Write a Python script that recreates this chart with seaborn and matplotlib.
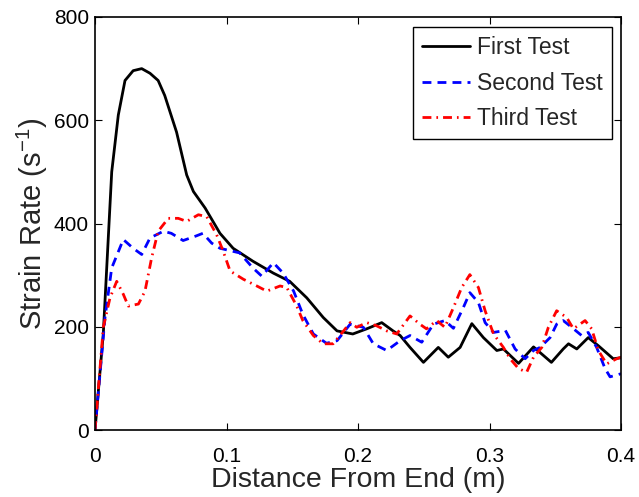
import matplotlib
matplotlib.use("Agg")
import pandas as pd
import seaborn as sns
from matplotlib import pyplot as plt

# values (distance in m, strain rate in 1/s)
first_x = [0.0, 0.0063, 0.0127, 0.0177, 0.0228, 0.029, 0.0355, 0.0418, 0.048, 0.053,
           0.062, 0.0697, 0.0748, 0.0837, 0.095, 0.105, 0.120, 0.1355, 0.148, 0.161,
           0.1735, 0.184, 0.196, 0.2066, 0.218, 0.2266, 0.232, 0.2395, 0.2497, 0.261,
           0.2686, 0.2776, 0.2865, 0.2953, 0.3055, 0.3105, 0.322, 0.3334, 0.347, 0.356,
           0.360, 0.3663, 0.375, 0.3828, 0.394, 0.4]
first_y = [0, 187, 500, 610, 677, 696, 700, 691, 677, 648,
           577, 494, 462, 430, 381, 352, 327, 304, 288, 256,
           218, 192, 186, 196, 208, 192, 183, 160, 131, 160,
           141, 160, 206, 179, 154, 157, 129, 161, 131, 157,
           167, 157, 179, 163, 138, 140]

second_x = [0.0, 0.0076, 0.0127, 0.0215, 0.029, 0.0355, 0.0418, 0.052, 0.058, 0.067,
            0.077, 0.082, 0.0887, 0.095, 0.110, 0.120, 0.1268, 0.1356, 0.143, 0.151,
            0.158, 0.166, 0.176, 0.184, 0.194, 0.204, 0.2116, 0.2218, 0.232, 0.2395,
            0.2484, 0.2573, 0.266, 0.2725, 0.280, 0.285, 0.2915, 0.2966, 0.303, 0.312,
            0.3194, 0.327, 0.3334, 0.3384, 0.346, 0.351, 0.356, 0.3624, 0.370, 0.375,
            0.3814, 0.3878, 0.3916, 0.4]
second_y = [0, 218, 314, 369, 352, 340, 372, 385, 381, 367,
            376, 381, 362, 352, 343, 314, 298, 324, 304, 269,
            224, 186, 168, 173, 205, 199, 167, 154, 173, 183,
            170, 205, 212, 197, 237, 266, 247, 208, 189, 193,
            157, 138, 154, 160, 179, 205, 212, 199, 183, 189,
            160, 119, 103, 109]

third_x = [0.0, 0.0063, 0.0114, 0.0165, 0.0215, 0.0253, 0.033, 0.038, 0.043, 0.048,
           0.0557, 0.0633, 0.0697, 0.0786, 0.085, 0.0925, 0.0975, 0.1027, 0.1128, 0.123,
           0.1306, 0.1407, 0.1458, 0.1534, 0.158, 0.166, 0.1735, 0.181, 0.189, 0.194,
           0.199, 0.2066, 0.214, 0.2218, 0.2294, 0.2395, 0.247, 0.252, 0.2598, 0.266,
           0.2725, 0.2788, 0.285, 0.2915, 0.2966, 0.303, 0.3105, 0.3156, 0.322, 0.3282,
           0.3334, 0.3397, 0.3447, 0.351, 0.3586, 0.3637, 0.3726, 0.3776, 0.3827, 0.389,
           0.3966, 0.4]
third_y = [0, 199, 256, 288, 263, 240, 244, 269, 333, 385,
           410, 410, 404, 417, 413, 378, 346, 308, 292, 279,
           269, 279, 276, 240, 212, 183, 167, 167, 192, 208,
           199, 208, 202, 192, 186, 221, 205, 196, 212, 199,
           237, 276, 301, 276, 231, 186, 160, 138, 119, 112,
           141, 160, 199, 231, 218, 196, 212, 196, 154, 128,
           138, 141]

series_names = ["First Test", "Second Test", "Third Test"]
series_colors = ["black", "blue", "red"]

frames = []
for name, xs, ys in zip(series_names, [first_x, second_x, third_x],
                        [first_y, second_y, third_y]):
    frames.append(pd.DataFrame({"distance": xs, "rate": ys, "test": name}))
data = pd.concat(frames, ignore_index=True)

sns.set_style("ticks")
plt.rcParams["font.family"] = ["Liberation Sans", "DejaVu Sans"]
plt.rcParams["mathtext.fontset"] = "custom"
plt.rcParams["mathtext.rm"] = "Liberation Sans"
plt.rcParams["mathtext.it"] = "Liberation Sans:italic"
plt.rcParams["mathtext.bf"] = "Liberation Sans:bold"

fig = plt.figure(figsize=(6.39, 4.97), dpi=100)
ax = fig.add_axes([0.1487, 0.1348, 0.8233, 0.831])

sns.lineplot(
    data=data,
    x="distance",
    y="rate",
    hue="test",
    style="test",
    hue_order=series_names,
    style_order=series_names,
    palette=dict(zip(series_names, series_colors)),
    dashes={"First Test": "", "Second Test": (3.2, 2.2), "Third Test": (3.2, 1.8, 0.6, 1.8)},
    estimator=None,
    sort=False,
    linewidth=2.0,
    ax=ax,
)

ax.set_xlim(0, 0.4)
ax.set_ylim(0, 800)
ax.set_xticks([0, 0.1, 0.2, 0.3, 0.4])
ax.set_xticklabels(["0", "0.1", "0.2", "0.3", "0.4"])
ax.set_yticks([0, 200, 400, 600, 800])
ax.tick_params(direction="in", length=5, width=0.8, labelsize=15, colors="black",
               top=True, right=True)
ax.tick_params(axis="x", pad=12)
ax.tick_params(axis="y", pad=4.5)
for sp in ax.spines.values():
    sp.set_visible(True)
    sp.set_linewidth(1.2)
    sp.set_color("black")

ax.set_xlabel("Distance From End (m)", fontsize=20.5, labelpad=1)
ax.set_ylabel("Strain Rate (s$^{-1}$)", fontsize=21, labelpad=2.5)

leg = ax.legend(loc="upper right", bbox_to_anchor=(0.983, 0.976), borderaxespad=0,
                fontsize=16.5, frameon=True, fancybox=False, edgecolor="black",
                framealpha=1, handlelength=2.1, handletextpad=0.3,
                borderpad=0.4, labelspacing=0.55)
leg.get_frame().set_linewidth(1.0)

fig.savefig("out.png", dpi=100)
